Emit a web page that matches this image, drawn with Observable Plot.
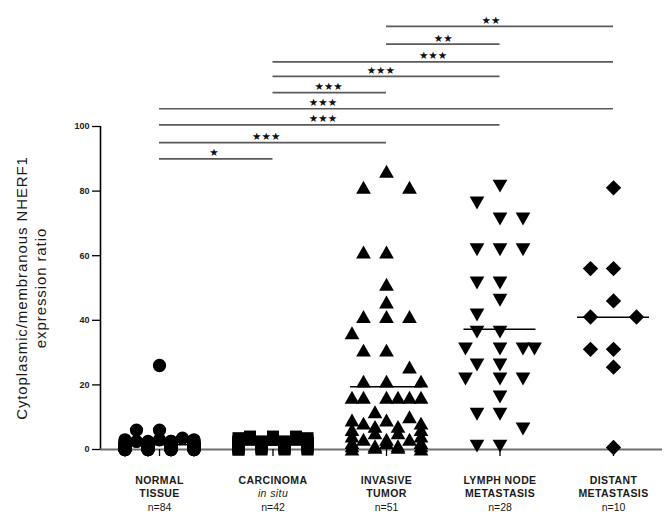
<!DOCTYPE html>
<html>
<head>
<meta charset="utf-8">
<script src="https://cdn.jsdelivr.net/npm/d3@7"></script>
<script src="https://cdn.jsdelivr.net/npm/@observablehq/plot@0.6"></script>
<style>
  html, body { margin: 0; padding: 0; background: #fff; }
  #chart svg { display: block; }
</style>
</head>
<body>
<div id="chart"></div>
<script>
// ---------- data ----------
const categories = ["normal", "carcinoma", "invasive", "lymph", "distant"];
const labelLine1 = ["NORMAL", "CARCINOMA", "INVASIVE", "LYMPH NODE", "DISTANT"];
const labelLine2 = ["TISSUE", "in situ", "TUMOR", "METASTASIS", "METASTASIS"];
const groupN = [84, 42, 51, 28, 10];

const normalTissue = [
  26, 6, 6, 3.5, 3, 3, 3,
  2.5, 2.5, 2.5, 2.5, 2.5, 2.5,
  2, 2, 2, 2, 2, 2, 2, 2, 2, 2,
  1.5, 1.5, 1.5, 1.5, 1.5, 1.5, 1.5, 1.5, 1.5, 1.5,
  1, 1, 1, 1, 1, 1, 1, 1, 1, 1, 1, 1, 1, 1, 1,
  0.5, 0.5, 0.5, 0.5, 0.5, 0.5, 0.5, 0.5, 0.5, 0.5, 0.5, 0.5, 0.5, 0.5, 0.5,
  0, 0, 0, 0, 0, 0, 0, 0, 0, 0, 0, 0, 0, 0, 0, 0, 0, 0, 0, 0, 0
];
const carcinomaInSitu = [
  4, 4, 4, 3.5, 3.5, 3, 3, 3, 3,
  2.5, 2.5, 2.5, 2.5, 2.5,
  2, 2, 2, 2, 2, 2,
  1.5, 1.5, 1.5, 1.5, 1.5, 1.5,
  1, 1, 1, 1, 1, 1,
  0.5, 0.5, 0.5, 0.5, 0.5,
  0, 0, 0, 0, 0
];
const invasiveTumor = [
  86, 81, 81, 61, 61, 51, 45.5, 41, 41, 41, 36, 30.6, 30.6, 25.4, 21, 21, 21,
  16, 16, 16, 16, 16, 16, 11.5,
  10, 9, 9, 8, 8, 7, 7, 6, 6, 5, 5, 4, 4, 3, 3, 3, 2, 2, 2, 1, 1, 1, 1, 0.5, 0.5, 0, 0
];
const lymphNodeMetastasis = [
  81.7, 76.5, 71.5, 71.5, 62, 62, 62, 51.7, 51.7, 46.4, 41.8, 36.5, 36.5,
  31.3, 31.3, 31.3, 31.3, 26.3, 26.3, 22, 22, 22, 16.4, 11.1, 11.1, 6.5, 1.2, 1.2
];
const distantMetastasis = [81, 56, 56, 46, 41, 41, 31, 31, 25.5, 0.6];

// significance brackets
const sigFrom  = ["invasive", "invasive", "carcinoma", "carcinoma", "carcinoma", "normal", "normal", "normal", "normal"];
const sigTo    = ["distant", "lymph", "distant", "lymph", "invasive", "distant", "lymph", "invasive", "carcinoma"];
const sigLevel = [131, 125.5, 120, 115.5, 110.5, 105.5, 100.5, 95, 90];
const sigStars = ["**", "**", "***", "***", "***", "***", "***", "***", "*"];
const sigLabelAt = [2.92, 2.5, 2.41, 1.95, 1.49, 1.44, 1.44, 0.94, 0.48];

const yTicks = [0, 20, 40, 60, 80, 100];

// ---------- layout ----------
const W = 664, H = 515;
const marginLeft = 100, marginRight = 2, marginTop = 126, marginBottom = 66;
const firstCenterPx = 159, stepPx = 113.5;
const xMin = -(firstCenterPx - marginLeft) / stepPx;
const xMax = (W - marginRight - firstCenterPx) / stepPx;
const colPx = 23;
const colUnit = colPx / stepPx;
const pxPerY = (H - marginTop - marginBottom) / 100;
const gap = 17 / pxPerY;

// ---------- symbols ----------
const rOf = size => Math.sqrt(size / Math.PI);
const symCircle = { draw(c, s) { const r = rOf(s) * 0.95; c.moveTo(r, 0); c.arc(0, 0, r, 0, 2 * Math.PI); } };
const symSquare = { draw(c, s) { const h = rOf(s) * 0.86; c.rect(-h, -h, 2 * h, 2 * h); } };
const symTriUp = { draw(c, s) { const r = rOf(s); c.moveTo(0, -r); c.lineTo(1.05 * r, 0.85 * r); c.lineTo(-1.05 * r, 0.85 * r); c.closePath(); } };
const symTriDown = { draw(c, s) { const r = rOf(s); c.moveTo(0, r); c.lineTo(1.05 * r, -0.85 * r); c.lineTo(-1.05 * r, -0.85 * r); c.closePath(); } };
const symDiamond = { draw(c, s) { const r = rOf(s) * 1.1; c.moveTo(0, -r); c.lineTo(r, 0); c.lineTo(0, r); c.lineTo(-r, 0); c.closePath(); } };

const groups = [
  { key: "normal", values: normalTissue, symbol: symCircle },
  { key: "carcinoma", values: carcinomaInSitu, symbol: symSquare },
  { key: "invasive", values: invasiveTumor, symbol: symTriUp },
  { key: "lymph", values: lymphNodeMetastasis, symbol: symTriDown },
  { key: "distant", values: distantMetastasis, symbol: symDiamond }
];

// column dodge: top-down; free slot if possible, otherwise least crowded slot
function dodge(values) {
  const order = [0, -1, 1, -0.5, 0.5, -1.5, 1.5];
  const placed = [];
  const idx = values.map((v, i) => ({ v, i })).sort((a, b) => b.v - a.v);
  const cols = new Array(values.length);
  for (const { v, i } of idx) {
    let best = null, bestScore = Infinity;
    for (const c of order) {
      let crowd = 0;
      for (const p of placed) {
        const dc = Math.abs(p.c - c), dv = Math.abs(v - p.v);
        if (dc < 0.95 && dv < gap) crowd += (1 - dv / gap) * (dc < 0.25 ? 2 : 1);
      }
      if (crowd === 0) { best = c; break; }
      if (crowd < bestScore - 1e-9) { bestScore = crowd; best = c; }
    }
    placed.push({ c: best, v });
    cols[i] = best;
  }
  return cols;
}

const idxOf = k => categories.indexOf(k);

const pointMarks = groups.map(g => {
  const cols = dodge(g.values);
  const gi = idxOf(g.key);
  const pts = g.values.map((v, i) => ({ x: gi + cols[i] * colUnit, y: v }));
  return Plot.dot(pts, { x: "x", y: "y", r: 7, symbol: g.symbol, fill: "black", stroke: "none" });
});

const means = groups.map(g => ({ i: idxOf(g.key), m: d3.mean(g.values) }));
const halfMean = 36 / stepPx;

const sig = sigFrom.map((f, i) => ({
  x1: idxOf(f), x2: idxOf(sigTo[i]), y: sigLevel[i], stars: sigStars[i].replace(/\*/g, "\u2605"), lx: sigLabelAt[i]
}));

const labels = categories.map((c, i) => ({ i, l1: labelLine1[i], l2: labelLine2[i], n: "n=" + groupN[i] }));
const font = "Liberation Sans, Arial, Helvetica, sans-serif";
const yTitle = "Cytoplasmic/membranous NHERF1\nexpression ratio";

const plot = Plot.plot({
  width: W, height: H,
  marginLeft, marginRight, marginTop, marginBottom,
  style: { fontFamily: font, background: "white", color: "black" },
  x: { type: "linear", domain: [xMin, xMax], axis: null },
  y: { domain: [0, 100], axis: null },
  marks: [
    Plot.axisY({ ticks: yTicks, tickSize: 8, tickPadding: 3, fontSize: 9, fontWeight: "bold", label: null, stroke: "black", strokeWidth: 1.3, fill: "#222" }),
    Plot.ruleX([xMin], { y1: 0, y2: 100, stroke: "black", strokeWidth: 1.6 }),
    Plot.ruleY([0], { stroke: "#6e6e6e", strokeWidth: 2 }),
    Plot.axisX({ ticks: [0, 1, 2, 3, 4], tickSize: 7, tickFormat: () => "", label: null, stroke: "black", strokeWidth: 1.3 }),
    Plot.ruleY(means, { y: "m", x1: d => d.i - halfMean, x2: d => d.i + halfMean, stroke: "black", strokeWidth: 1.5 }),
    ...pointMarks,
    Plot.ruleY(sig, { y: "y", x1: "x1", x2: "x2", stroke: "#5a5a5a", strokeWidth: 1.7 }),
    Plot.text(sig, { x: "lx", y: "y", text: "stars", dy: -6, fontSize: 10.5, fontFamily: "DejaVu Sans", fill: "#111" }),
    Plot.text(labels, { x: "i", y: () => 0, text: "l1", dy: 31, fontSize: 10.5, fontWeight: "bold", fill: "#1a1a1a" }),
    Plot.text(labels.filter(d => d.i !== 1), { x: "i", y: () => 0, text: "l2", dy: 44.5, fontSize: 10.5, fontWeight: "bold", fill: "#1a1a1a" }),
    Plot.text(labels.filter(d => d.i === 1), { x: "i", y: () => 0, text: "l2", dy: 44.5, fontSize: 10.5, fontStyle: "italic", fill: "#1a1a1a" }),
    Plot.text(labels, { x: "i", y: () => 0, text: "n", dy: 58.5, fontSize: 10.5, fill: "#1a1a1a" }),
    Plot.text([yTitle], {
      frameAnchor: "left", dx: -70, rotate: -90, textAnchor: "middle", fontSize: 15, lineHeight: 1.3, fill: "#1a1a1a"
    })
  ]
});

plot.querySelectorAll("text").forEach(t => {
  const s = t.textContent;
  if (s.startsWith("Cytoplasmic")) t.setAttribute("letter-spacing", "0.9");
  else if (labelLine1.includes(s) || labelLine2.includes(s)) t.setAttribute("letter-spacing", "0.4");
});

document.getElementById("chart").appendChild(plot);
</script>
</body>
</html>
